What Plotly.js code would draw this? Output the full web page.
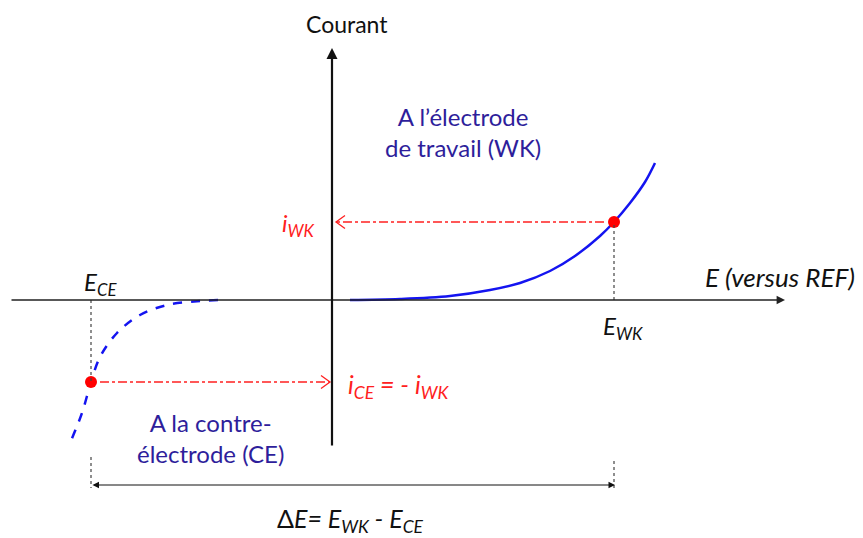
<!DOCTYPE html>
<html>
<head>
<meta charset="utf-8">
<script src="https://cdn.plot.ly/plotly-3.0.1.min.js"></script>
<style>
  html, body { margin: 0; padding: 0; background: #fff; }
  #chart { width: 863px; height: 538px; }
</style>
</head>
<body>
<div id="chart"></div>
<script>
// courbe de l'électrode de travail (WK)
var wkE = [0.18, 0.68, 1.18, 1.58, 1.88, 2.18, 2.43, 2.68, 2.82, 2.98, 3.13, 3.23];
var wkI = [0, 0.01, 0.04, 0.10, 0.17, 0.29, 0.44, 0.64, 0.78, 0.97, 1.18, 1.37];
// courbe de la contre-électrode (CE), en pointillés
var ceE = [-1.14, -1.32, -1.65, -1.92, -2.15, -2.32, -2.41, -2.50, -2.62];
var ceI = [0, -0.01, -0.05, -0.15, -0.33, -0.57, -0.82, -1.13, -1.43];
// points de fonctionnement : [WK, CE]
var ptE = [2.82, -2.41];
var ptI = [0.78, -0.82];
// bornes des axes dessinés
var axisE = [-3.22, 4.53];
var axisI = [-1.47, 2.52];
var deltaI = -1.85;

var font = "Lato, 'Open Sans', sans-serif";
var blueText = "#2E1E9B";
var red = "#FF2020";

var data = [
  {
    x: wkE, y: wkI, type: "scatter", mode: "lines",
    line: { color: "#1414F0", width: 2.5, shape: "spline" },
    hoverinfo: "skip"
  },
  {
    x: ceE, y: ceI, type: "scatter", mode: "lines",
    line: { color: "#1414F0", width: 2.5, dash: "dash", shape: "spline" },
    hoverinfo: "skip"
  },
  {
    x: ptE, y: ptI, type: "scatter", mode: "markers",
    marker: { color: "#FF0000", size: 12 },
    hoverinfo: "skip"
  }
];

// petite pointe ouverte "<" ou ">"
function chevron(tx, ty, dir) {
  var dx = 0.09 * dir, dy = 0.065;
  return {
    type: "path", xref: "x", yref: "y",
    path: "M" + (tx - dx) + "," + (ty + dy) + " L" + tx + "," + ty + " L" + (tx - dx) + "," + (ty - dy),
    line: { color: red, width: 1.3 }
  };
}

var shapes = [
  // pointillés verticaux
  { type: "line", x0: ptE[0], x1: ptE[0], y0: 0, y1: ptI[0], line: { color: "#444", width: 1.2, dash: "dot" } },
  { type: "line", x0: ptE[1], x1: ptE[1], y0: 0, y1: ptI[1], line: { color: "#444", width: 1.2, dash: "dot" } },
  { type: "line", x0: ptE[0], x1: ptE[0], y0: deltaI + 0.24, y1: deltaI - 0.03, line: { color: "#444", width: 1.2, dash: "dot" } },
  { type: "line", x0: ptE[1], x1: ptE[1], y0: deltaI + 0.28, y1: deltaI - 0.03, line: { color: "#444", width: 1.2, dash: "dot" } },
  // flèches rouges mixtes
  { type: "line", x0: ptE[0] - 0.1, x1: 0.04, y0: ptI[0], y1: ptI[0], line: { color: red, width: 1.3, dash: "dashdot" } },
  chevron(0.04, ptI[0], -1),
  { type: "line", x0: ptE[1] + 0.09, x1: -0.02, y0: ptI[1], y1: ptI[1], line: { color: red, width: 1.3, dash: "dashdot" } },
  chevron(-0.02, ptI[1], 1)
];

function label(x, y, text, size, color) {
  return {
    x: x, y: y, xref: "x", yref: "y", text: text, showarrow: false,
    xanchor: "center", yanchor: "middle",
    font: { family: font, size: size, color: color || "#111" }
  };
}

var annotations = [
  // axes
  {
    x: axisE[1], y: 0, ax: axisE[0], ay: 0, axref: "x", ayref: "y",
    text: "", showarrow: true, arrowhead: 2, arrowsize: 1.2, arrowwidth: 1.4, arrowcolor: "#222"
  },
  {
    x: 0, y: axisI[1], ax: 0, ay: axisI[0], axref: "x", ayref: "y",
    text: "", showarrow: true, arrowhead: 2, arrowsize: 1, arrowwidth: 2.2, arrowcolor: "#111"
  },
  // delta E
  {
    x: ptE[0] + 0.01, y: deltaI, ax: ptE[1], ay: deltaI, axref: "x", ayref: "y",
    text: "", showarrow: true, arrowside: "end+start", arrowhead: 2, startarrowhead: 2,
    arrowsize: 1.3, arrowwidth: 1, arrowcolor: "#111"
  },
  label(0.15, 2.76, "Courant", 23),
  label(4.48, 0.23, "<i>E (versus REF)</i>", 26),
  label(-2.32, 0.17, "<i>E<sub>CE</sub></i>", 24),
  label(2.91, -0.27, "<i>E<sub>WK</sub></i>", 24),
  label(-0.34, 0.76, "<i>i<sub>WK</sub></i>", 24, red),
  label(0.66, -0.86, "<i>i<sub>CE</sub> = - i<sub>WK</sub></i>", 25, red),
  label(1.31, 1.68, "A l’électrode<br>de travail (WK)", 24, blueText),
  label(-1.22, -1.38, "A la contre-<br>électrode (CE)", 24, blueText),
  label(0.18, -2.2, "Δ<i>E= E<sub>WK</sub> - E<sub>CE</sub></i>", 25)
];

var layout = {
  width: 863,
  height: 538,
  margin: { l: 0, r: 0, t: 0, b: 0 },
  paper_bgcolor: "#fff",
  plot_bgcolor: "#fff",
  showlegend: false,
  xaxis: { range: [-3.32, 5.31], visible: false, fixedrange: true },
  yaxis: { range: [-2.38, 3.0], visible: false, fixedrange: true },
  shapes: shapes,
  annotations: annotations
};

Plotly.newPlot("chart", data, layout, { displayModeBar: false, staticPlot: true });
</script>
</body>
</html>
